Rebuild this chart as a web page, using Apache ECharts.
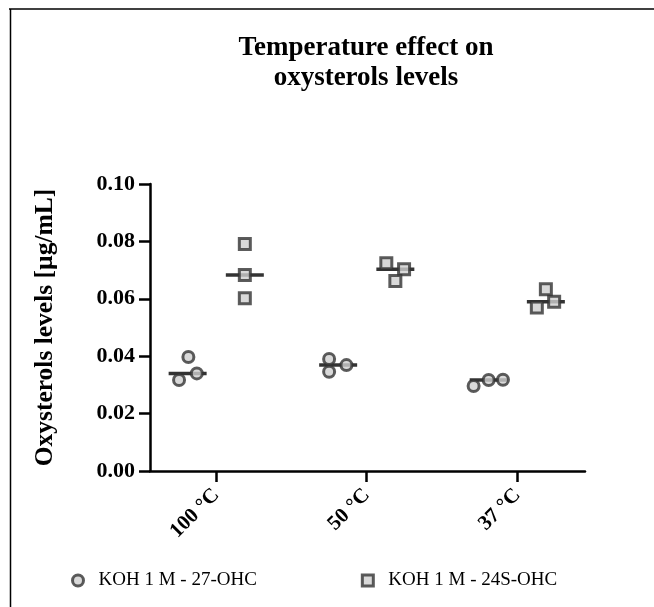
<!DOCTYPE html>
<html><head><meta charset="utf-8">
<script src="https://cdn.jsdelivr.net/npm/echarts@6/dist/echarts.min.js"></script>
<style>html,body{margin:0;padding:0;background:#fff}#c{width:654px;height:607px}</style>
</head><body><div id="c"></div>
<script>
const categories = ['100 °C', '50 °C', '37 °C'];
const seriesNames = ['KOH 1 M - 27-OHC', 'KOH 1 M - 24S-OHC'];
const ohc27 = [[0.0397, 0.0317, 0.0340], [0.0390, 0.0346, 0.0369], [0.0296, 0.0317, 0.0318]];
const ohc24s = [[0.0791, 0.0683, 0.0602], [0.0724, 0.0703, 0.0662], [0.0633, 0.0590, 0.0570]];
const jitter27 = [[0.005, -0.057, 0.061], [-0.06, -0.06, 0.055], [-0.10, 0.0, 0.095]];
const jitter24s = [[0, 0, 0], [-0.06, 0.058, 0], [0.0, 0.055, -0.06]];
const yTicks = [0, 0.02, 0.04, 0.06, 0.08, 0.10];

const GROUP_OFF = 0.19;
const serif = '"Liberation Serif", "Times New Roman", serif';
function median(a) { const s = a.slice().sort((x, y) => x - y); return s[Math.floor(s.length / 2)]; }
function pts(vals, jit, off) {
  const out = [];
  vals.forEach((g, i) => g.forEach((v, j) => out.push([i + off + jit[i][j], v])));
  return out;
}
function meds(vals, off) { return vals.map((g, i) => [i + off, median(g)]); }

const markerStyle = { color: '#d0d0d0', borderColor: '#333', borderWidth: 3 };
const chart = echarts.init(document.getElementById('c'));
chart.setOption({
  animation: false,
  backgroundColor: '#fff',
  title: {
    text: 'Temperature effect on\noxysterols levels',
    left: 361, top: 28, textAlign: 'center',
    textStyle: { fontFamily: serif, fontWeight: 'bold', fontSize: 27, lineHeight: 30, color: '#000' }
  },
  graphic: [
    { type: 'line', shape: { x1: 9, y1: 9, x2: 654, y2: 9 }, style: { stroke: '#000', lineWidth: 1.5 } },
    { type: 'line', shape: { x1: 10.5, y1: 9, x2: 10.5, y2: 607 }, style: { stroke: '#000', lineWidth: 1.5 } }
  ],
  legend: {
    data: seriesNames,
    left: 66, top: 566,
    itemWidth: 11, itemHeight: 11, itemGap: 104,
    itemStyle: { color: '#d0d0d0', borderColor: '#333', borderWidth: 3 },
    textStyle: { fontFamily: serif, fontSize: 19, color: '#000', padding: [0, 0, 0, 10] }
  },
  grid: { left: 150, right: 69, top: 184, bottom: 136 },
  xAxis: {
    type: 'value', min: -0.44, max: 2.45,
    splitLine: { show: false },
    axisLine: { show: true, onZero: false, lineStyle: { color: '#000', width: 2.5 } },
    axisTick: { show: true, customValues: [0, 1, 2], length: 11, lineStyle: { color: '#000', width: 2.5 } },
    axisLabel: {
      customValues: [0, 1, 2], rotate: 45, margin: 21,
      formatter: v => categories[Math.round(v)] || '',
      fontFamily: serif, fontWeight: 'bold', fontSize: 21, color: '#000'
    }
  },
  yAxis: {
    type: 'value', min: 0, max: 0.10, interval: 0.02,
    name: 'Oxysterols levels [µg/mL]', nameLocation: 'middle', nameGap: 92,
    nameTextStyle: { fontFamily: serif, fontWeight: 'bold', fontSize: 25.5, color: '#000' },
    splitLine: { show: false },
    axisLine: { show: true, onZero: false, lineStyle: { color: '#000', width: 2.5 } },
    axisTick: { show: true, length: 11, lineStyle: { color: '#000', width: 2.5 } },
    axisLabel: {
      margin: 15, formatter: v => v.toFixed(2),
      fontFamily: serif, fontWeight: 'bold', fontSize: 22, color: '#000'
    }
  },
  series: [
    { name: 'med27', type: 'scatter', symbol: 'rect', symbolSize: [38, 3.5], z: 1, silent: true,
      itemStyle: { color: '#000' }, data: meds(ohc27, -GROUP_OFF) },
    { name: 'med24s', type: 'scatter', symbol: 'rect', symbolSize: [38, 3.5], z: 1, silent: true,
      itemStyle: { color: '#000' }, data: meds(ohc24s, GROUP_OFF) },
    { name: seriesNames[0], type: 'scatter', symbol: 'circle', symbolSize: 11, z: 3,
      itemStyle: markerStyle, data: pts(ohc27, jitter27, -GROUP_OFF) },
    { name: seriesNames[1], type: 'scatter', symbol: 'rect', symbolSize: 11, z: 3,
      itemStyle: markerStyle, data: pts(ohc24s, jitter24s, GROUP_OFF) }
  ]
});
</script></body></html>
